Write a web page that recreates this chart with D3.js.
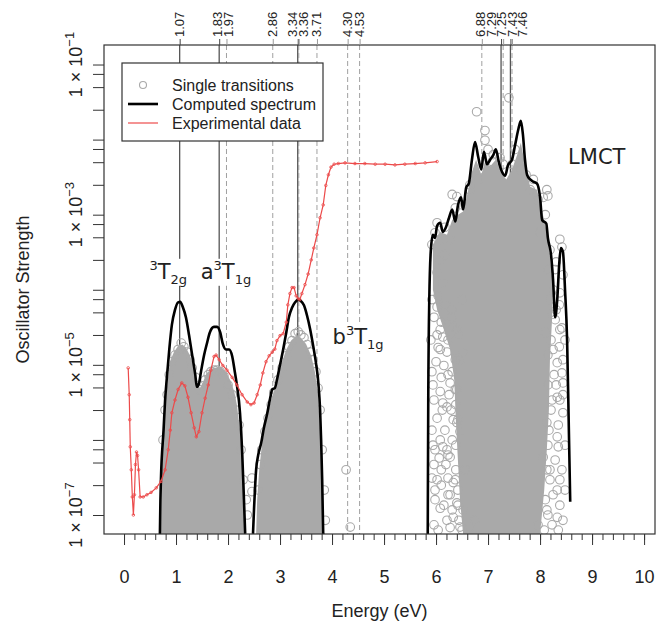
<!DOCTYPE html>
<html lang="en">
<head>
<meta charset="utf-8">
<title>Oscillator strengths</title>
<style>
  body { margin: 0; background: #fff; }
  svg { display: block; }
  text { font-family: "Liberation Sans", Arial, sans-serif; fill: #222; }
  .anno { font-family: "DejaVu Sans", sans-serif; }
</style>
</head>
<body>
<div id="chart"></div>
<script src="https://d3js.org/d3.v7.min.js"></script>
<script>

// computed spectrum (black), null splits the three bands
const specEnergy = [
  0.69, 0.70, 0.71, 0.76, 0.79, 0.82, 0.87, 0.92, 0.98, 1.04, 1.08, 1.13, 1.19, 1.25, 1.31, 1.37, 1.40, 1.44,
  1.48, 1.54, 1.60, 1.65, 1.73, 1.79, 1.85, 1.90, 1.96, 2.02, 2.08, 2.13, 2.17, 2.23, 2.27, 2.30, 2.33, null,
  2.48, 2.50, 2.54, 2.58, 2.64, 2.69, 2.75, 2.81, 2.85, 2.90, 2.94, 3.00, 3.06, 3.12, 3.17, 3.23, 3.29, 3.35,
  3.40, 3.46, 3.52, 3.58, 3.64, 3.69, 3.74, 3.77, 3.79, 3.81, 3.83, null,
  5.84, 5.85, 5.87, 5.90, 5.94, 5.98, 6.02, 6.08, 6.13, 6.19, 6.25, 6.31, 6.37, 6.42, 6.48, 6.52, 6.58, 6.63,
  6.69, 6.75, 6.81, 6.87, 6.92, 6.98, 7.04, 7.10, 7.15, 7.21, 7.27, 7.33, 7.38, 7.46, 7.52, 7.58, 7.63, 7.67,
  7.71, 7.75, 7.81, 7.87, 7.94, 8.00, 8.04, 8.12, 8.15, 8.21, 8.25, 8.29, 8.33, 8.37, 8.40, 8.44, 8.48, 8.52,
  8.55, 8.58
];
const specStrength = [
  5.6e-8, 1.6e-7, 3.0e-7, 1.35e-6, 3.4e-6, 6.3e-6, 1.6e-5, 3.4e-5, 5.4e-5, 6.8e-5, 6.9e-5, 5.9e-5, 4.3e-5,
  2.5e-5, 1.35e-5, 7.4e-6, 5.1e-6, 5.6e-6, 8.1e-6, 1.35e-5, 2.0e-5, 2.7e-5, 3.2e-5, 3.2e-5, 2.7e-5, 1.9e-5,
  1.6e-5, 1.6e-5, 1.3e-5, 8.1e-6, 5.4e-6, 2.3e-6, 7.4e-7, 2.1e-7, 5.6e-8, null,
  5.6e-8, 1.2e-7, 4.0e-7, 6.3e-7, 9.3e-7, 1.45e-6, 2.2e-6, 3.6e-6, 4.7e-6, 4.9e-6, 6.3e-6, 1.0e-5, 1.6e-5,
  2.7e-5, 4.3e-5, 5.75e-5, 6.8e-5, 7.4e-5, 7.1e-5, 6.2e-5, 4.5e-5, 2.95e-5, 1.74e-5, 1.07e-5, 5.4e-6,
  2.5e-6, 1.0e-6, 3.0e-7, 5.6e-8, null,
  5.6e-8, 3.4e-6, 7.4e-5, 3.4e-4, 5.4e-4, 4.9e-4, 7.1e-4, 7.8e-4, 5.9e-4, 6.8e-4, 9.1e-4, 1.17e-3, 8.1e-4,
  1.32e-3, 1.7e-3, 1.17e-3, 2.3e-3, 2.6e-3, 5.4e-3, 9.3e-3, 5.9e-3, 4.0e-3, 6.9e-3, 4.7e-3, 5.4e-3, 6.2e-3,
  7.4e-3, 4.9e-3, 3.7e-3, 3.3e-3, 4.5e-3, 5.4e-3, 8.5e-3, 1.35e-2, 1.78e-2, 1.17e-2, 5.4e-3, 3.4e-3, 2.95e-3,
  2.75e-3, 2.6e-3, 1.7e-3, 8.5e-4, 7.6e-4, 4.9e-4, 2.95e-4, 1.35e-4, 4.3e-5, 7.4e-5, 2.3e-4, 3.6e-4, 3.2e-4,
  1.0e-4, 2.1e-5, 1.86e-6, 1.5e-7
];

// experimental data (red)
const expEnergy = [
  0.08, 0.10, 0.11, 0.12, 0.14, 0.16, 0.18, 0.20, 0.22, 0.24, 0.26, 0.28, 0.31, 0.37, 0.44, 0.52, 0.62, 0.71,
  0.79, 0.85, 0.89, 0.92, 0.98, 1.04, 1.11, 1.17, 1.23, 1.29, 1.35, 1.39, 1.44, 1.50, 1.56, 1.62, 1.67, 1.73,
  1.77, 1.83, 1.90, 1.98, 2.08, 2.17, 2.27, 2.37, 2.44, 2.50, 2.56, 2.62, 2.67, 2.73, 2.79, 2.85, 2.90, 2.94,
  3.00, 3.06, 3.12, 3.15, 3.19, 3.23, 3.27, 3.31, 3.35, 3.38, 3.42, 3.48, 3.54, 3.60, 3.65, 3.71, 3.77, 3.83,
  3.88, 3.93, 3.98, 4.04, 4.12, 4.25, 4.44, 4.63, 4.83, 5.02, 5.21, 5.40, 5.60, 5.79, 6.02
];
const expStrength = [
  9.1e-6, 4.0e-6, 1.86e-6, 8.1e-7, 4.0e-7, 1.74e-7, 1.0e-7, 1.86e-7, 4.7e-7, 6.9e-7, 6.2e-7, 4.0e-7, 1.74e-7,
  1.74e-7, 1.86e-7, 2.0e-7, 2.3e-7, 2.8e-7, 4.0e-7, 7.4e-7, 1.35e-6, 2.3e-6, 3.4e-6, 4.7e-6, 5.75e-6, 5.25e-6,
  3.7e-6, 2.3e-6, 1.45e-6, 1.1e-6, 1.29e-6, 2.3e-6, 3.6e-6, 5.4e-6, 8.5e-6, 1.29e-5, 1.35e-5, 1.17e-5, 9.8e-6,
  8.5e-6, 6.8e-6, 5.4e-6, 4.0e-6, 3.2e-6, 2.95e-6, 3.1e-6, 4.0e-6, 5.4e-6, 7.8e-6, 1.1e-5, 1.32e-5, 1.48e-5,
  1.62e-5, 2.1e-5, 2.45e-5, 2.6e-5, 3.7e-5, 6.3e-5, 8.9e-5, 1.07e-4, 1.07e-4, 8.3e-5, 7.6e-5, 7.4e-5, 8.9e-5,
  1.17e-4, 1.62e-4, 2.5e-4, 3.6e-4, 5.4e-4, 9.1e-4, 1.35e-3, 2.45e-3, 3.4e-3, 4.3e-3, 4.7e-3, 4.8e-3, 4.9e-3,
  4.8e-3, 4.8e-3, 4.7e-3, 4.7e-3, 4.6e-3, 4.7e-3, 4.8e-3, 4.9e-3, 5.1e-3
];

// single transitions: dense cores (upper envelope of the cloud)
const lowCoreEnergy = [0.71, 0.73, 0.77, 0.83, 0.88, 0.96, 1.04, 1.12, 1.19, 1.27, 1.35, 1.40, 1.46, 1.52, 1.58,
  1.65, 1.73, 1.81, 1.88, 1.96, 2.04, 2.12, 2.17, 2.23, 2.27, 2.31, 2.33];
const lowCoreStrength = [5.6e-8, 4.0e-7, 1.86e-6, 5.4e-6, 1.1e-5, 1.48e-5, 1.78e-5, 1.86e-5, 1.7e-5, 1.32e-5,
  9.1e-6, 5.9e-6, 4.9e-6, 5.9e-6, 7.6e-6, 8.5e-6, 9.1e-6, 9.3e-6, 9.1e-6, 8.1e-6, 6.3e-6, 4.4e-6, 2.95e-6,
  1.35e-6, 5.4e-7, 1.6e-7, 5.6e-8];
const midCoreEnergy = [2.54, 2.56, 2.60, 2.65, 2.73, 2.83, 2.92, 3.02, 3.12, 3.21, 3.31, 3.40, 3.50, 3.60, 3.67,
  3.73, 3.77, 3.80, 3.82];
const midCoreStrength = [5.6e-8, 1.6e-7, 4.0e-7, 8.5e-7, 1.86e-6, 3.4e-6, 5.4e-6, 1.0e-5, 1.6e-5, 2.1e-5, 2.45e-5,
  2.3e-5, 1.9e-5, 1.32e-5, 8.1e-6, 4.0e-6, 1.35e-6, 3.0e-7, 5.6e-8];
// LMCT core outline, walked round
const lmctCoreEnergy = [5.94, 6.08, 6.21, 6.31, 6.42, 6.52, 6.60, 6.69, 6.77, 6.87, 6.94, 7.04, 7.15, 7.25, 7.35,
  7.46, 7.58, 7.63, 7.71, 7.81, 7.94, 8.02, 8.12, 8.19, 8.25, 8.23, 8.19, 8.17, 8.13, 8.08, 8.00, 6.52, 6.46,
  6.42, 6.38, 6.35, 6.27, 6.15, 6.02, 5.94];
const lmctCoreStrength = [4.0e-4, 5.9e-4, 5.4e-4, 8.5e-4, 1.0e-3, 1.1e-3, 1.86e-3, 3.7e-3, 5.4e-3, 3.4e-3, 5.1e-3,
  4.4e-3, 5.4e-3, 3.7e-3, 2.95e-3, 4.0e-3, 6.9e-3, 9.1e-3, 4.7e-3, 2.35e-3, 2.15e-3, 1.29e-3, 6.3e-4, 2.75e-4,
  1.1e-4, 4.0e-5, 1.17e-5, 2.5e-6, 7.4e-7, 2.15e-7, 5.6e-8, 5.6e-8, 1.6e-7, 5.4e-7, 1.86e-6, 6.3e-6, 1.6e-5,
  2.95e-5, 5.4e-5, 1.0e-4];

// single transitions: loose circles at the edges of the clouds
const lowBandEnergy = [0.75, 0.79, 0.83, 0.87, 0.92, 0.98, 1.04, 1.10, 1.15, 1.21, 1.27, 1.31, 1.38, 1.44, 1.50,
  1.56, 1.62, 1.67, 1.73, 1.79, 1.85, 1.92, 2.00, 2.08, 2.15, 2.21, 2.25, 2.29, 2.35, 2.37, 2.46, 2.46];
const lowBandStrength = [1.0e-6, 2.5e-6, 4.0e-6, 7.4e-6, 1.1e-5, 1.35e-5, 1.6e-5, 1.95e-5, 1.74e-5, 1.48e-5,
  1.17e-5, 9.1e-6, 6.8e-6, 4.7e-6, 5.25e-6, 6.3e-6, 7.4e-6, 8.1e-6, 8.5e-6, 8.5e-6, 8.1e-6, 7.1e-6, 5.4e-6,
  4.0e-6, 2.5e-6, 1.58e-6, 7.4e-7, 2.95e-7, 1.6e-7, 1.0e-7, 3.1e-7, 2.05e-7];
const midBandEnergy = [2.58, 2.62, 2.65, 2.71, 2.77, 2.83, 2.88, 2.96, 3.04, 3.12, 3.17, 3.23, 3.29, 3.35, 3.40,
  3.46, 3.52, 3.58, 3.63, 3.69, 3.73, 3.77, 3.81, 3.85, 3.87, 4.27, 4.35];
const midBandStrength = [2.15e-7, 4.7e-7, 7.4e-7, 1.29e-6, 1.95e-6, 2.95e-6, 4.3e-6, 6.3e-6, 9.1e-6, 1.32e-5,
  1.74e-5, 2.1e-5, 2.6e-5, 2.75e-5, 2.5e-5, 2.3e-5, 1.86e-5, 1.48e-5, 1.17e-5, 8.1e-6, 4.9e-6, 2.5e-6, 7.4e-7,
  2.15e-7, 8.5e-8, 4.0e-7, 6.9e-8];
const lmctBandEnergy = [6.78, 6.94, 6.94, 7.40, 6.31, 6.40, 6.02, 5.98, 8.13, 8.15, 7.62, 8.38, 8.42, 6.08, 6.02,
  6.13, 6.02, 6.08, 6.02, 6.13, 6.33, 6.40, 6.52, 6.46, 6.08, 6.13, 6.21, 6.33, 6.40, 6.46, 5.98, 6.13, 6.21,
  6.27, 6.02, 5.98, 6.33, 6.27, 6.40, 6.52, 6.33, 6.46, 6.65, 8.25, 8.33, 8.44, 8.42, 8.44, 8.33, 8.44, 8.33,
  8.35, 8.33, 8.33, 8.13, 8.06, 8.13, 8.10, 8.25, 8.38, 8.38, 5.92, 6.17, 6.27, 6.56, 6.65, 6.81, 7.81, 7.96,
  8.10, 8.19, 8.29, 8.00, 7.23, 7.08, 7.46, 6.50, 6.31, 6.23, 6.37, 6.56, 6.75, 7.96, 8.19, 8.23, 8.29,
  5.96, 6.10, 6.23, 6.00, 6.15, 6.31, 5.94, 6.08, 6.25, 6.38, 6.02, 6.17, 6.31, 5.96, 6.10, 6.23, 6.38, 6.08,
  6.21, 5.96, 6.42, 8.19, 8.31, 8.42, 8.21, 8.37, 8.15, 8.27, 8.38, 8.17, 8.29, 8.42, 8.19, 8.10, 8.38, 8.23,
  8.08, 6.17, 6.37, 6.50, 6.65, 7.00, 7.10, 7.29, 7.52, 7.73, 7.87, 8.06, 6.08,
  5.92, 6.04, 6.19, 6.31, 6.42, 5.90, 6.04, 6.21, 6.37, 5.92, 6.10, 6.27, 6.40, 5.96, 6.12, 6.29, 6.42, 5.92,
  6.08, 6.23, 6.38, 5.94, 6.06, 6.19, 6.37, 5.92, 6.10, 6.23, 6.42, 5.98, 6.15, 6.31, 6.44, 6.04, 6.27, 6.50,
  8.15, 8.31, 8.44, 8.37, 8.23, 8.48, 8.15, 8.31, 8.44, 8.21, 8.35, 8.48, 8.15, 8.38, 8.13, 8.25, 8.48, 8.15,
  8.35, 8.44];
const lmctBandStrength = [2.35e-2, 1.32e-2, 9.8e-3, 3.6e-2, 1.86e-3, 1.74e-3, 7.8e-4, 5.75e-4, 2.15e-3, 1.78e-3,
  4.0e-3, 4.7e-4, 3.7e-4, 2.5e-4, 1.7e-4, 1.23e-4, 5.9e-5, 2.95e-5, 2.5e-5, 2.35e-5, 3.2e-5, 2.95e-5, 1.45e-5,
  1.17e-5, 1.6e-5, 3.1e-6, 2.75e-6, 1.86e-6, 1.7e-6, 1.29e-6, 7.4e-7, 8.1e-7, 7.4e-7, 5.9e-7, 2.95e-7, 2.15e-7,
  2.7e-7, 1.86e-7, 1.45e-7, 1.17e-7, 9.3e-8, 6.9e-8, 6.9e-8, 1.6e-5, 1.07e-5, 1.17e-5, 7.8e-6, 5.75e-6, 3.7e-6,
  2.3e-6, 1.1e-6, 8.1e-7, 2.15e-7, 9.3e-8, 1.17e-7, 5.9e-7, 1.7e-6, 2.7e-5, 1.0e-4, 9.1e-5, 2.95e-5, 4.0e-4,
  2.95e-4, 4.7e-4, 1.35e-3, 2.15e-3, 2.95e-3, 2.15e-3, 1.58e-3, 1.0e-3, 3.4e-4, 1.86e-4, 5.9e-4, 5.75e-3,
  5.1e-3, 4.7e-3, 7.4e-5, 5.4e-5, 7.4e-6, 4.7e-6, 4.0e-7, 8.5e-8, 7.4e-8, 4.0e-7, 3.4e-6, 4.0e-5,
  4.3e-5, 3.7e-5, 2.15e-5, 1.1e-5, 9.8e-6, 8.1e-6, 5.4e-6, 4.4e-6, 4.0e-6, 2.95e-6, 1.95e-6, 1.35e-6, 1.0e-6,
  4.7e-7, 4.0e-7, 3.1e-7, 4.0e-7, 1.23e-7, 8.5e-8, 7.4e-8, 2.15e-7, 7.4e-5, 5.4e-5, 3.1e-5, 2.15e-5, 1.74e-5,
  5.4e-6, 7.4e-6, 3.4e-6, 1.35e-6, 5.4e-7, 4.0e-7, 2.95e-7, 1.6e-7, 1.35e-7, 7.4e-8, 6.3e-8, 6.8e-4, 1.23e-3,
  1.35e-3, 2.5e-3, 7.4e-3, 6.3e-3, 4.7e-3, 7.4e-3, 3.4e-3, 2.95e-3, 1.7e-3, 4.7e-4,
  7.4e-5, 8.3e-5, 6.3e-5, 4.3e-5, 2.5e-5, 2.15e-5, 1.7e-5, 1.48e-5, 1.17e-5, 8.1e-6, 6.8e-6, 5.75e-6, 4.7e-6,
  3.4e-6, 2.5e-6, 2.5e-6, 1.86e-6, 1.35e-6, 1.0e-6, 6.3e-7, 8.5e-7, 8.5e-7, 5.75e-7, 4.7e-7, 2.95e-7, 3.1e-7,
  2.5e-7, 1.86e-7, 1.35e-7, 1.6e-7, 1.35e-7, 1.17e-7, 8.5e-8, 6.3e-8, 6.8e-8, 6.3e-8,
  1.86e-4, 2.35e-4, 1.58e-4, 6.3e-5, 4.7e-5, 2.15e-5, 1.35e-5, 5.4e-6, 4.0e-6, 2.5e-6, 1.58e-6, 8.5e-7, 8.5e-7,
  2.95e-7, 4.0e-7, 1.86e-7, 2.15e-7, 1.0e-7, 6.3e-8, 8.5e-8];

// assigned transitions on the top axis
const markEnergy = [1.07, 1.83, 1.97, 2.86, 3.34, 3.36, 3.71, 4.30, 4.53, 6.88, 7.29, 7.25, 7.43, 7.46];
const markStrong = [true, true, false, false, true, false, false, false, false, false, false, true, true, false];

// tick values
const xMajor = [0, 1, 2, 3, 4, 5, 6, 7, 8, 9, 10];
const yMajor = [1e-7, 1e-6, 1e-5, 1e-4, 1e-3, 1e-2, 1e-1];
const yLabelled = [1e-7, 1e-5, 1e-3, 1e-1];
const yLabelExp = ["−7", "−5", "−3", "−1"];
const yMinorMant = [2.5, 5, 7.5];

// band labels: prefix, superscript, main, subscript
const annoPre = ["", "a", "b", ""];
const annoSup = ["3", "3", "3", ""];
const annoMain = ["T", "T", "T", "LMCT"];
const annoSub = ["2g", "1g", "1g", ""];

const legendText = ["Single transitions", "Computed spectrum", "Experimental data"];

const width = 657, height = 632;
const box = {left: 104, right: 655, top: 45, bottom: 534};
const grey = "#a9a9a9", red = "#ec4a4a";

const svg = d3.select("#chart").append("svg")
    .attr("width", width)
    .attr("height", height);

svg.append("rect").attr("width", width).attr("height", height).attr("fill", "#fff");

const x = d3.scaleLinear().domain([-0.385, 10.21]).range([box.left, box.right]);
const y = d3.scaleLog().domain([Math.pow(10, -7.253), Math.pow(10, -0.74)]).range([box.bottom, box.top]);

svg.append("clipPath").attr("id", "clip")
  .append("rect")
    .attr("x", box.left).attr("y", box.top)
    .attr("width", box.right - box.left).attr("height", box.bottom - box.top);

const plot = svg.append("g").attr("clip-path", "url(#clip)");

//vertical marks for the assigned transitions
plot.selectAll("line.mark")
  .data(markEnergy)
  .join("line")
    .attr("class", "mark")
    .attr("x1", d => x(d)).attr("x2", d => x(d))
    .attr("y1", box.top).attr("y2", box.bottom)
    .attr("stroke", (d, i) => markStrong[i] ? "#555" : "#a0a0a0")
    .attr("stroke-width", (d, i) => markStrong[i] ? 1.3 : 1)
    .attr("stroke-dasharray", (d, i) => markStrong[i] ? null : "5,3");

//dense parts of the transition clouds
const yFloor = y.domain()[0];
const coreArea = d3.area()
    .x(d => x(d[0]))
    .y0(y(yFloor))
    .y1(d => y(d[1]));

[[lowCoreEnergy, lowCoreStrength], [midCoreEnergy, midCoreStrength]].forEach(([e, f]) => {
  plot.append("path")
    .datum(e.map((v, i) => [v, f[i]]))
    .attr("d", coreArea)
    .attr("fill", grey);
});

plot.append("path")
  .datum(lmctCoreEnergy.map((v, i) => [v, lmctCoreStrength[i]]))
  .attr("d", d3.line().x(d => x(d[0])).y(d => y(d[1])).curve(d3.curveLinearClosed))
  .attr("fill", grey);

//single transitions as open circles
const trans = [].concat(
  lowBandEnergy.map((v, i) => [v, lowBandStrength[i]]),
  midBandEnergy.map((v, i) => [v, midBandStrength[i]]),
  lmctBandEnergy.map((v, i) => [v, lmctBandStrength[i]])
);
plot.selectAll("circle.trans")
  .data(trans)
  .join("circle")
    .attr("class", "trans")
    .attr("cx", d => x(d[0]))
    .attr("cy", d => y(d[1]))
    .attr("r", 4.3)
    .attr("fill", "none")
    .attr("stroke", grey)
    .attr("stroke-width", 1.1);

//computed spectrum
const spec = specEnergy.map((v, i) => [v, specStrength[i]]);
plot.append("path")
  .datum(spec)
  .attr("d", d3.line()
      .defined(d => d[0] !== null)
      .x(d => x(d[0])).y(d => y(d[1]))
      .curve(d3.curveMonotoneX))
  .attr("fill", "none")
  .attr("stroke", "#000")
  .attr("stroke-width", 2.6)
  .attr("stroke-linejoin", "round");

//experimental data
const expData = expEnergy.map((v, i) => [v, expStrength[i]]);
plot.append("path")
  .datum(expData)
  .attr("d", d3.line().x(d => x(d[0])).y(d => y(d[1])))
  .attr("fill", "none")
  .attr("stroke", red)
  .attr("stroke-width", 1.2);
plot.selectAll("circle.exp")
  .data(expData)
  .join("circle")
    .attr("class", "exp")
    .attr("cx", d => x(d[0]))
    .attr("cy", d => y(d[1]))
    .attr("r", 1.3)
    .attr("fill", "none")
    .attr("stroke", red)
    .attr("stroke-width", 0.8);

//frame
svg.append("rect")
  .attr("x", box.left).attr("y", box.top)
  .attr("width", box.right - box.left).attr("height", box.bottom - box.top)
  .attr("fill", "none").attr("stroke", "#333").attr("stroke-width", 1.2);

//bottom axis
const xAxisG = svg.append("g")
  .attr("transform", "translate(0," + box.bottom + ")")
  .call(d3.axisBottom(x).tickValues(xMajor).tickSize(11).tickPadding(25).tickFormat(d3.format("d")));
svg.append("g")
  .attr("transform", "translate(0," + box.bottom + ")")
  .call(d3.axisBottom(x).tickValues(d3.range(0, 10.01, 0.2)).tickSize(6).tickFormat(""));

//left axis
const yMinor = [];
yMajor.slice(0, -1).forEach(p => yMinorMant.forEach(m => yMinor.push(m * p)));
svg.append("g")
  .attr("transform", "translate(" + box.left + ",0)")
  .call(d3.axisLeft(y).tickValues(yMajor.concat(yMinor)).tickSize(11).tickFormat(""));

svg.selectAll(".domain").remove();
svg.selectAll(".tick line").attr("stroke", "#333");
xAxisG.selectAll(".tick text").attr("font-size", 18).attr("fill", "#222");

const yLab = svg.append("g").selectAll("text")
  .data(yLabelled)
  .join("text")
    .attr("transform", d => "translate(82," + y(d) + ") rotate(-90)")
    .attr("text-anchor", "middle")
    .attr("font-size", 18);
yLab.append("tspan").text("1 × 10");
yLab.append("tspan").attr("dy", -8).attr("font-size", 13).text((d, i) => yLabelExp[i]);

//top axis marks and labels
svg.append("g")
  .attr("transform", "translate(0," + box.top + ")")
  .call(d3.axisTop(x).tickValues(markEnergy).tickSize(6).tickFormat(""))
  .selectAll(".tick line")
    .attr("stroke", (d, i) => markStrong[i] ? "#444" : "#999");
svg.selectAll(".domain").remove();

// spread crowded labels round the mean of their positions
function spreadLabels(pos, gap) {
  let groups = pos.map((p, i) => ({idx: [i], ideal: [p]}));
  const place = g => g.idx.map((_, k) => d3.mean(g.ideal) + (k - (g.idx.length - 1) / 2) * gap);
  let merged = true;
  while (merged) {
    merged = false;
    for (let i = 1; i < groups.length; i++) {
      const a = place(groups[i - 1]), b = place(groups[i]);
      if (b[0] - a[a.length - 1] < gap) {
        groups[i - 1] = {idx: groups[i - 1].idx.concat(groups[i].idx), ideal: groups[i - 1].ideal.concat(groups[i].ideal)};
        groups.splice(i, 1);
        merged = true;
        break;
      }
    }
  }
  const out = [];
  groups.forEach(g => place(g).forEach((p, k) => out[g.idx[k]] = p));
  return out;
}
const labelX = spreadLabels(markEnergy.map(x), 10.5);

svg.append("g").selectAll("text")
  .data(markEnergy)
  .join("text")
    .attr("transform", (d, i) => "translate(" + (labelX[i] + 4.5) + "," + (box.top - 8) + ") rotate(-90)")
    .attr("font-size", 13)
    .attr("fill", (d, i) => markStrong[i] ? "#333" : "#999")
    .text(d => d.toFixed(2));

//axis titles
svg.append("text")
  .attr("x", (box.left + box.right) / 2).attr("y", 617)
  .attr("text-anchor", "middle").attr("font-size", 18)
  .text("Energy (eV)");
svg.append("text")
  .attr("transform", "translate(29," + (box.top + box.bottom) / 2 + ") rotate(-90)")
  .attr("text-anchor", "middle").attr("font-size", 18)
  .text("Oscillator Strength");

//band labels with white backing
const annoAt = [[0.85, 1.4e-4], [1.96, 1.4e-4], [4.5, 1.9e-5], [9.09, 4.7e-3]];
annoMain.forEach((m, i) => {
  const g = svg.append("g");
  const t = g.append("text")
    .attr("class", "anno")
    .attr("x", x(annoAt[i][0])).attr("y", y(annoAt[i][1]))
    .attr("text-anchor", "middle")
    .attr("font-size", 21);
  if (annoPre[i]) t.append("tspan").text(annoPre[i]);
  if (annoSup[i]) t.append("tspan").attr("dy", -9).attr("font-size", 13).text(annoSup[i]);
  t.append("tspan").attr("dy", annoSup[i] ? 9 : 0).text(m);
  if (annoSub[i]) t.append("tspan").attr("dy", 5).attr("font-size", 13).text(annoSub[i]);
  const b = t.node().getBBox();
  g.insert("rect", "text")
    .attr("x", b.x - 1).attr("y", b.y + 1)
    .attr("width", b.width + 2).attr("height", b.height - 2)
    .attr("fill", "#fff");
});

//legend
const legend = svg.append("g").attr("transform", "translate(122,63)");
legend.append("rect")
  .attr("width", 201).attr("height", 78)
  .attr("fill", "#fff").attr("stroke", "#333").attr("stroke-width", 1.2);
const rowY = [22, 41, 60];
legend.append("circle").attr("cx", 21).attr("cy", rowY[0]).attr("r", 3.5)
  .attr("fill", "none").attr("stroke", grey).attr("stroke-width", 1.1);
legend.append("line").attr("x1", 6).attr("x2", 36).attr("y1", rowY[1]).attr("y2", rowY[1])
  .attr("stroke", "#000").attr("stroke-width", 2.6);
legend.append("line").attr("x1", 6).attr("x2", 36).attr("y1", rowY[2]).attr("y2", rowY[2])
  .attr("stroke", red).attr("stroke-width", 1.2);
legend.selectAll("text.leg")
  .data(legendText)
  .join("text")
    .attr("class", "leg")
    .attr("x", 50).attr("y", (d, i) => rowY[i] + 5.5)
    .attr("font-size", 16)
    .text(d => d);

</script>
</body>
</html>
